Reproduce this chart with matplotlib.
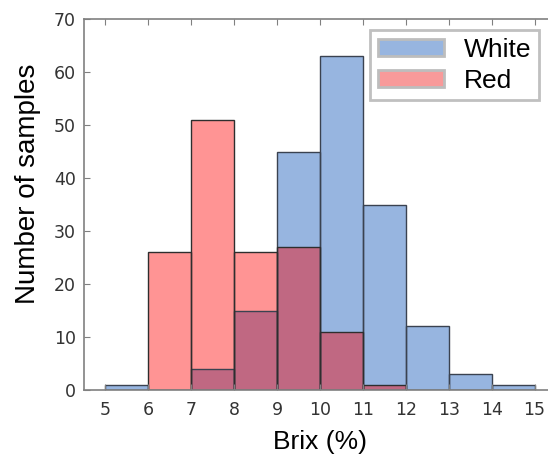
import numpy as np
import matplotlib.pyplot as plt
from matplotlib.patches import Patch

# histogram counts, bins of 1 % Brix from 5 to 15
bin_left = np.arange(5, 15)
white = [1, 0, 4, 15, 45, 63, 35, 12, 3, 1]
red = [0, 26, 51, 26, 27, 11, 1, 0, 0, 0]

blue_c = '#97b5e0'
red_c = '#ff9494'
both_c = '#c06882'
edge_c = '#2e2e2e'

fig = plt.figure(figsize=(5.48, 4.59), dpi=100)
ax = fig.add_axes([84/548, 69/459, 472/548, 371/459])

overlap = np.minimum(white, red)
ax.bar(bin_left, white, width=1, align='edge', color=blue_c, linewidth=0)
ax.bar(bin_left, red, width=1, align='edge', color=red_c, linewidth=0)
ax.bar(bin_left, overlap, width=1, align='edge', color=both_c, linewidth=0)
# outlines on top
ax.bar(bin_left, white, width=1, align='edge', fill=False, edgecolor='#3a4250', linewidth=1)
ax.bar(bin_left, red, width=1, align='edge', fill=False, edgecolor=edge_c, linewidth=1)

ax.set_xlim(4.5, 15.5)
ax.set_ylim(0, 70)
ax.set_xticks(range(5, 16))
ax.set_yticks(range(0, 71, 10))
ax.tick_params(direction='in', length=4, color='#808080', labelsize=12.5,
               labelcolor='#333333', top=True, right=False)
ax.tick_params(axis='x', pad=8)
ax.tick_params(axis='y', pad=6)
for s in ax.spines.values():
    s.set_color('#808080')
    s.set_linewidth(1.2)

ax.set_xlabel('Brix (%)', fontsize=19, family='Liberation Sans', labelpad=8)
ax.set_ylabel('Number of samples', fontsize=20, family='Liberation Sans', labelpad=9)
ax.yaxis.label.set_y(0.555)

handles = [Patch(facecolor=blue_c, edgecolor='#bdbdbd', linewidth=2, label='White'),
           Patch(facecolor='#f89a9a', edgecolor='#bdbdbd', linewidth=2, label='Red')]
leg = ax.legend(handles=handles, loc='upper left', bbox_to_anchor=(370/548, 1 - 30/459),
                bbox_transform=fig.transFigure, fancybox=False, framealpha=1,
                prop={'family': 'Liberation Sans', 'size': 19},
                handlelength=2.5, handleheight=0.6, handletextpad=0.75,
                labelspacing=0.25, borderpad=0.3, borderaxespad=0)
leg.get_frame().set_edgecolor('#c0c0c0')
leg.get_frame().set_linewidth(2)

fig.savefig('out.png', dpi=100)
